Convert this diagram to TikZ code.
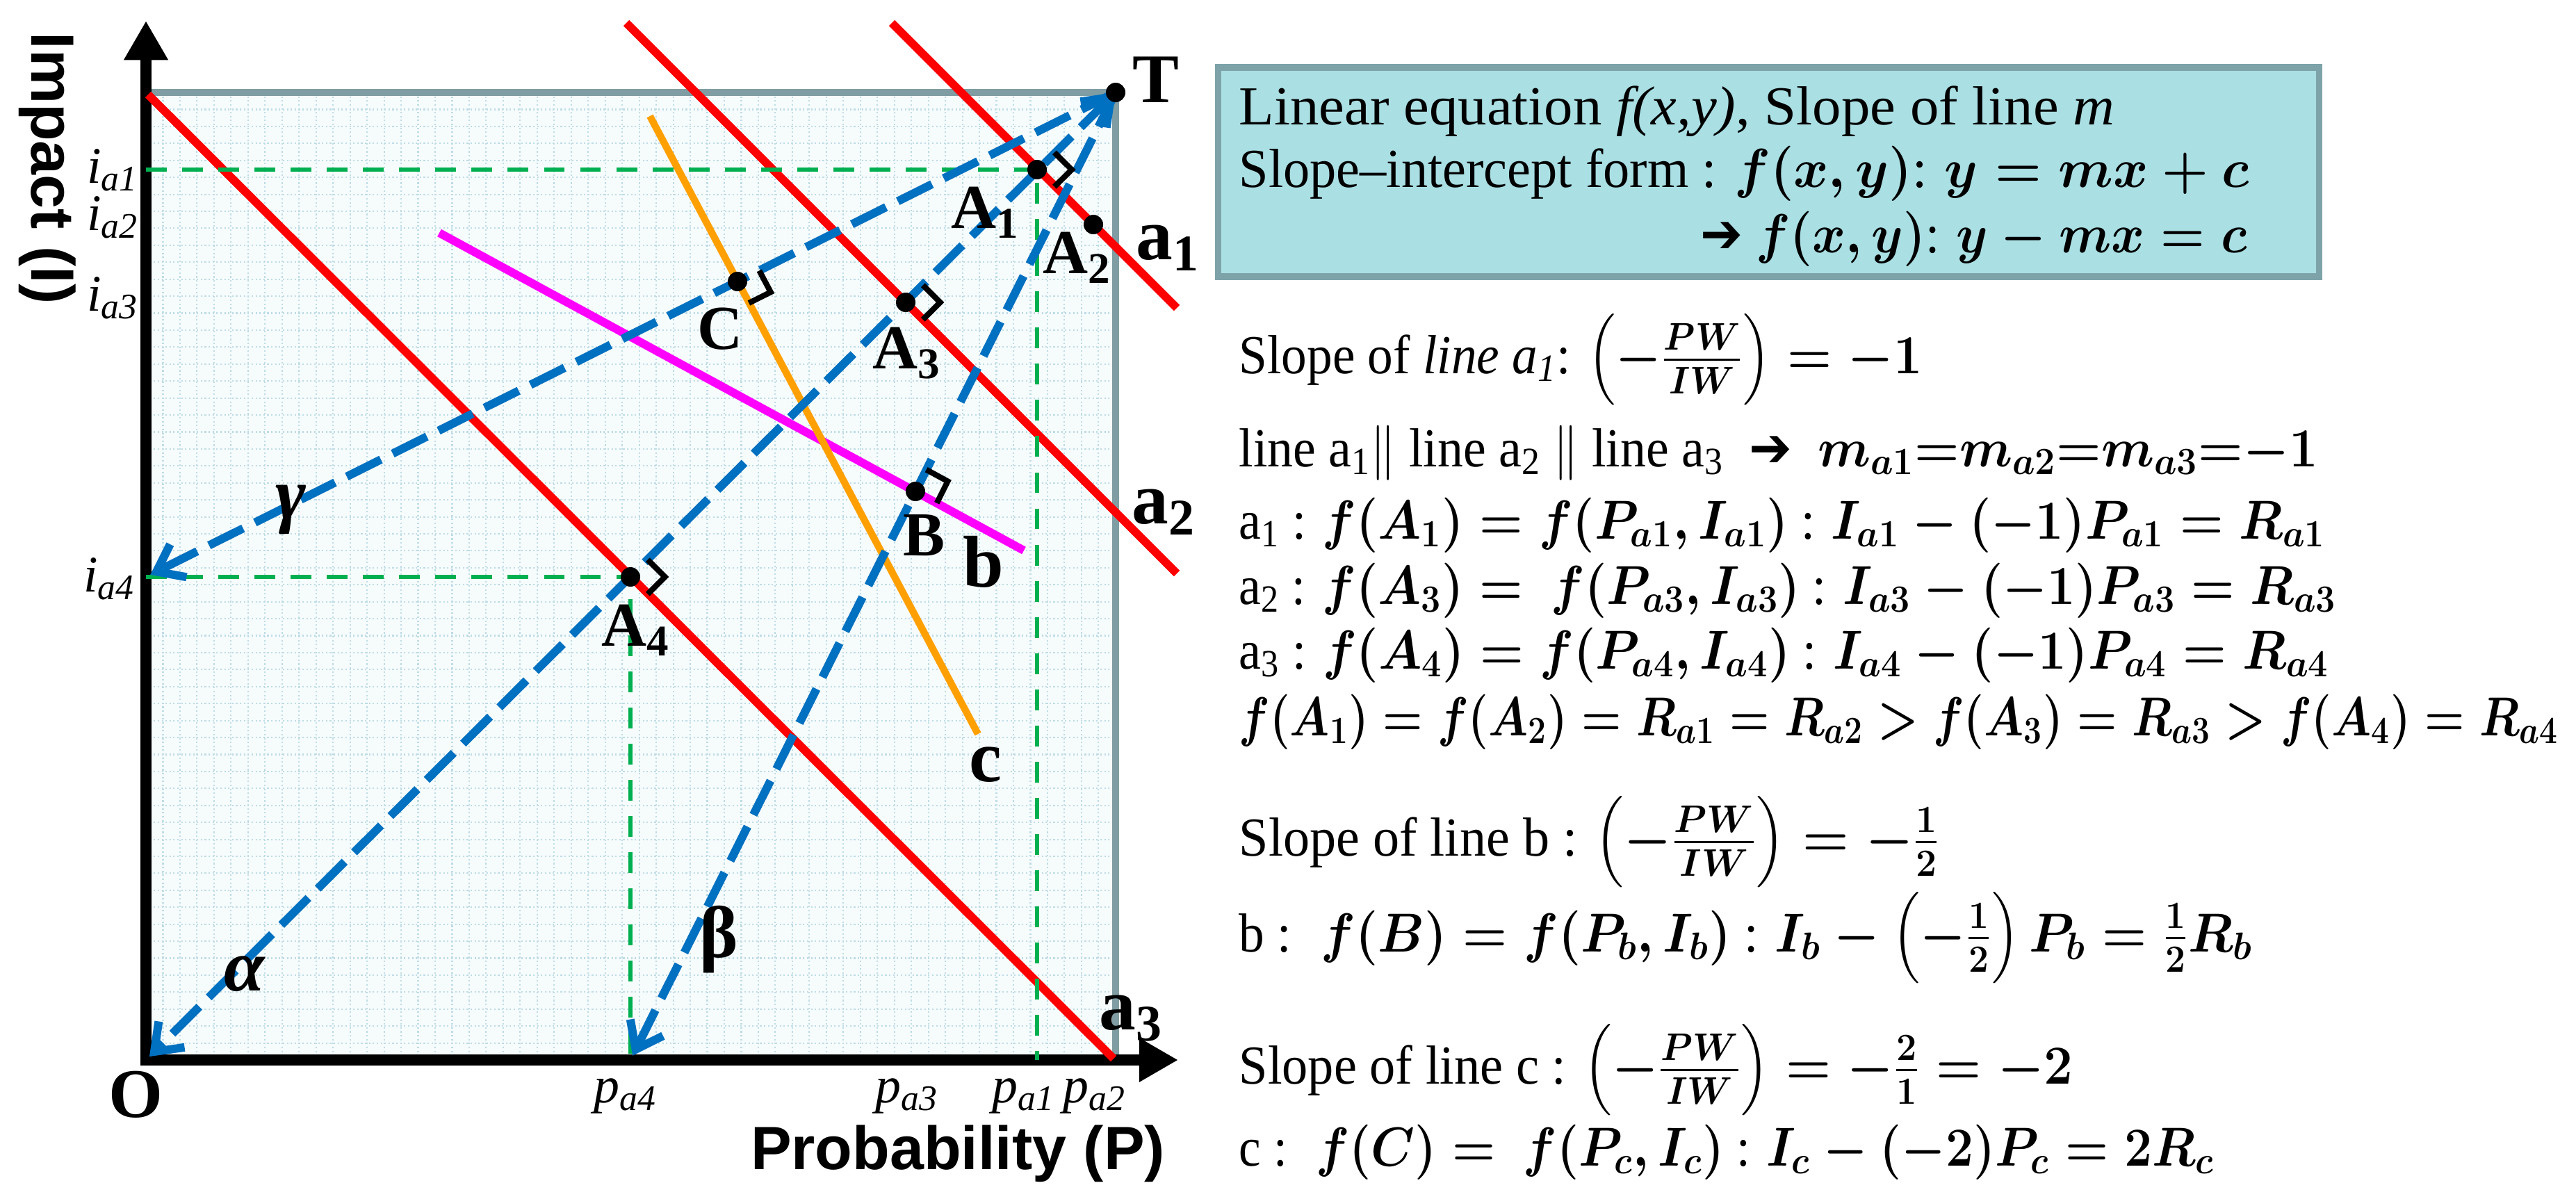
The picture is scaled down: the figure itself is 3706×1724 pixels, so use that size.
\RequirePackage{fix-cm}
\documentclass[tikz,border=0pt]{standalone}
\usepackage{amsmath}
\usepackage{graphicx}
\usepackage{fontspec}
\setmainfont{Liberation Serif}
\setsansfont{Liberation Sans}
\newfontfamily\djv{DejaVu Sans}
\usetikzlibrary{arrows.meta,calc}
\newcommand\bmath[1]{{\boldmath$#1$}}
\newcommand\fitw[2]{\resizebox{#1}{\height}{#2}}
\definecolor{rd}{RGB}{255,0,0}
\definecolor{org}{RGB}{255,160,0}
\definecolor{mag}{RGB}{255,0,255}
\definecolor{blu}{RGB}{0,112,192}
\definecolor{grn}{RGB}{0,176,80}
\definecolor{frm}{RGB}{127,157,163}
\definecolor{gridc}{RGB}{190,220,230}
\definecolor{gridbg}{RGB}{246,251,252}
\definecolor{boxfill}{RGB}{170,223,228}
\definecolor{boxline}{RGB}{125,163,168}
\begin{document}
\begin{tikzpicture}[x=0.01cm,y=-0.01cm,
  axisl/.style={line width=4.8pt, black, line join=miter,
    {Triangle[length=16pt,width=17pt]}-{Triangle[length=16pt,width=17pt]}},
  frame/.style={line width=3.1pt, draw=frm},
  gridline/.style={draw=gridc, line width=0.6pt, densely dotted},
  redl/.style={line width=3.4pt, draw=rd},
  orgl/.style={line width=2.9pt, draw=org},
  magl/.style={line width=3.4pt, draw=mag},
  blueD/.style={line width=3.4pt, draw=blu, dash pattern=on 15.6pt off 5.4pt},
  bluetip/.style={-{Straight Barb[length=10pt,width=15pt]}},
  greenD/.style={line width=1.5pt, draw=grn, dash pattern=on 8.5pt off 6.3pt},
  ramark/.style={line width=2.3pt, black, line join=miter},
  dot/.style={circle, fill=black, inner sep=0pt, minimum size=0.28cm},
  ptlab/.style={inner sep=0pt, font=\fontsize{25.6}{28}\selectfont\bfseries},
  biglab/.style={inner sep=0pt, font=\fontsize{28.5}{31}\selectfont\bfseries},
  linelab/.style={inner sep=0pt, font=\fontsize{30}{33}\selectfont\bfseries},
  ticklab/.style={inner sep=0pt, font=\fontsize{21}{24}\selectfont\itshape},
  axtitle/.style={inner sep=0pt, font=\sffamily\bfseries\fontsize{25}{28}\selectfont},
  eq/.style={inner sep=0pt, anchor=base west, font=\fontsize{22.5}{26}\selectfont},
  textbox/.style={draw=boxline, fill=boxfill, line width=2.8pt, inner sep=0pt,
    minimum width=15.83cm, minimum height=3.01cm}
]
\useasboundingbox (0,0) rectangle (3706,1724);

% key coordinates
\coordinate (O) at (210,1525);
\coordinate (T) at (1605,133);
\coordinate (TL) at (210,133);
\coordinate (BR) at (1605,1525);
\coordinate (ytip) at (210,30);
\coordinate (xtip) at (1695,1525);
\coordinate (A1) at (1492,244);
\coordinate (A2) at (1573,323);
\coordinate (A3) at (1303,435);
\coordinate (A4) at (907,830);
\coordinate (B) at (1317,707);
\coordinate (C) at (1061,405);
\coordinate (ia1) at (210,244);
\coordinate (pa1) at (1492,1525);
\coordinate (ia4) at (210,830);
\coordinate (pa4) at (907,1525);
\coordinate (a1s) at (1283,33);
\coordinate (a1e) at (1693,443);
\coordinate (a2s) at (901,33);
\coordinate (a2e) at (1693,825);
\coordinate (a3s) at (213,136);
\coordinate (a3e) at (1602,1523);
\coordinate (bs) at (632,335);
\coordinate (be) at (1473,792);
\coordinate (cs) at (935,167);
\coordinate (ce) at (1407,1056);

% grid background
\fill[gridbg] (TL) rectangle (BR);
\foreach \i in {1,...,56} {
  \draw[gridline] ({210+\i*24.47},133) -- ({210+\i*24.47},1525);
  \draw[gridline] (210,{1525-\i*24.42}) -- (1605,{1525-\i*24.42});
}
\draw[frame] (TL) -- (T) -- (BR);
\draw[axisl] (ytip) -- (O) -- (xtip);

% coloured lines
\draw[redl] (a1s) -- (a1e);
\draw[redl] (a2s) -- (a2e);
\draw[redl] (a3s) -- (a3e);
\draw[magl] (bs) -- (be);
\draw[orgl] (cs) -- (ce);

% green projections
\draw[greenD] (ia1) -- (A1) -- (pa1);
\draw[greenD] (ia4) -- (A4) -- (pa4);

% blue dashed vectors
\draw[blueD, {Straight Barb[length=10pt,width=15pt]}-{Straight Barb[length=10pt,width=15pt]}, shorten >=2pt] (T) -- (O);
\draw[blueD, bluetip, shorten >=2pt] (T) -- (pa4);
\draw[blueD, bluetip, shorten >=2pt] (T) -- (ia4);

% right-angle marks
\foreach \P/\Y/\n in {A1/a1e/1, A3/a2e/2, A4/a3e/3, B/be/4, C/ce/5} {
  \coordinate (ru\n) at ($(\P)!0.35cm!(T)$);
  \coordinate (rv\n) at ($(\P)!0.35cm!(\Y)$);
  \draw[ramark] (ru\n) -- ($(ru\n)+(rv\n)-(\P)$) -- (rv\n);
}

% dots
\foreach \P in {T,A1,A2,A3,A4,B,C} { \node[dot] (d\P) at (\P) {}; }

% labels in plot
\node[biglab] (Tl) at (1663,115) {T};
\node[biglab] (Ol) at (195,1575) {O};
\node[ptlab] (A1l) at (1418,306) {A\textsubscript{1}};
\node[ptlab] (A2l) at (1550,371) {A\textsubscript{2}};
\node[ptlab] (A3l) at (1305,508) {A\textsubscript{3}};
\node[ptlab] (A4l) at (915,907) {A\textsubscript{4}};
\node[ptlab] (Bl) at (1330,770) {B};
\node[ptlab] (Cl) at (1036,473) {C};
\node[linelab] (a1l) at (1680,357) {a\textsubscript{1}};
\node[linelab] (a2l) at (1674,737) {a\textsubscript{2}};
\node[linelab] (a3l) at (1627,1465) {a\textsubscript{3}};
\node[linelab] (bl) at (1415,808) {b};
\node[linelab] (cl) at (1418,1100) {c};
\node[linelab] (gl) at (418,734) {\itshape γ};
\node[linelab] (al) at (352,1401) {\itshape α};
\node[linelab] (bel) at (1034,1352) {β};
\node[ticklab, anchor=east] (ia1l) at (200,245) {i\textsubscript{a1}};
\node[ticklab, anchor=east] (ia2l) at (200,313) {i\textsubscript{a2}};
\node[ticklab, anchor=east] (ia3l) at (200,429) {i\textsubscript{a3}};
\node[ticklab, anchor=east] (ia4l) at (195,833) {i\textsubscript{a4}};
\node[ticklab] (pa4l) at (900,1577) {p\textsubscript{a4}};
\node[ticklab] (pa3l) at (1305,1577) {p\textsubscript{a3}};
\node[ticklab] (pa1l) at (1473,1577) {p\textsubscript{a1}};
\node[ticklab] (pa2l) at (1575,1577) {p\textsubscript{a2}};
\node[axtitle, rotate=-90] (ylab) at (68,242) {Impact (I)};
\node[axtitle] (xlab) at (1378,1660) {Probability (P)};

% text box
\node[textbox] (tb) at (2544.5,247.5) {};
\node[eq] (l1) at (1782,179) {\fitw{12.59cm}{Linear equation \textit{f(x,y)}, Slope of line \textit{m}}};
\node[eq] (l2) at (1782,269) {\fitw{14.52cm}{Slope–intercept form : \bmath{f(x,y)}: \bmath{y = mx + c}}};
\node[eq, anchor=base east] (l3) at (3234,363) {\fitw{7.86cm}{{\djv\bfseries ➔} \bmath{f(x,y)}: \bmath{y - mx = c}}};

% equations
\node[eq] (l4) at (1782,537) {\fitw{9.82cm}{Slope of \textit{line a\textsubscript{1}}: \bmath{\left(-\frac{PW}{IW}\right) = -1}}};
\node[eq] (l5) at (1782,671) {\fitw{15.51cm}{line a\textsubscript{1}$\|$ line a\textsubscript{2} $\|$ line a\textsubscript{3} \ {\djv\bfseries ➔} \ \bmath{m_{a1}{=}m_{a2}{=}m_{a3}{=}{-}1}}};
\node[eq] (l6) at (1782,775) {\fitw{15.62cm}{a\textsubscript{1} : \bmath{f(A_1) = f(P_{a1}, I_{a1})} : \bmath{I_{a1} - (-1)P_{a1} = R_{a1}}}};
\node[eq] (l7) at (1782,869) {\fitw{15.78cm}{a\textsubscript{2} : \bmath{f(A_3) = \ f(P_{a3}, I_{a3})} : \bmath{I_{a3} - (-1)P_{a3} = R_{a3}}}};
\node[eq] (l8) at (1782,962) {\fitw{15.67cm}{a\textsubscript{3} : \bmath{f(A_4) = f(P_{a4}, I_{a4})} : \bmath{I_{a4} - (-1)P_{a4} = R_{a4}}}};
\node[eq] (l9) at (1782,1058) {\fitw{18.97cm}{\bmath{f(A_1) = f(A_2) = R_{a1} = R_{a2} > f(A_3) = R_{a3} > f(A_4) = R_{a4}}}};
\node[eq] (l10) at (1782,1231) {\fitw{10.07cm}{Slope of line b : \bmath{\left(-\frac{PW}{IW}\right) = -\frac{1}{2}}}};
\node[eq] (l11) at (1782,1369) {\fitw{14.57cm}{b : \ \bmath{f(B) = f(P_b, I_b)} : \bmath{I_b - \left(-\frac{1}{2}\right) P_b = \frac{1}{2} R_b}}};
\node[eq] (l12) at (1782,1559) {\fitw{11.99cm}{Slope of line c : \bmath{\left(-\frac{PW}{IW}\right) = -\frac{2}{1} = -2}}};
\node[eq] (l13) at (1782,1677) {\fitw{14.02cm}{c : \ \bmath{f(C) = \ f(P_c, I_c)} : \bmath{I_c - (-2)P_c = 2R_c}}};
\end{tikzpicture}
\end{document}
